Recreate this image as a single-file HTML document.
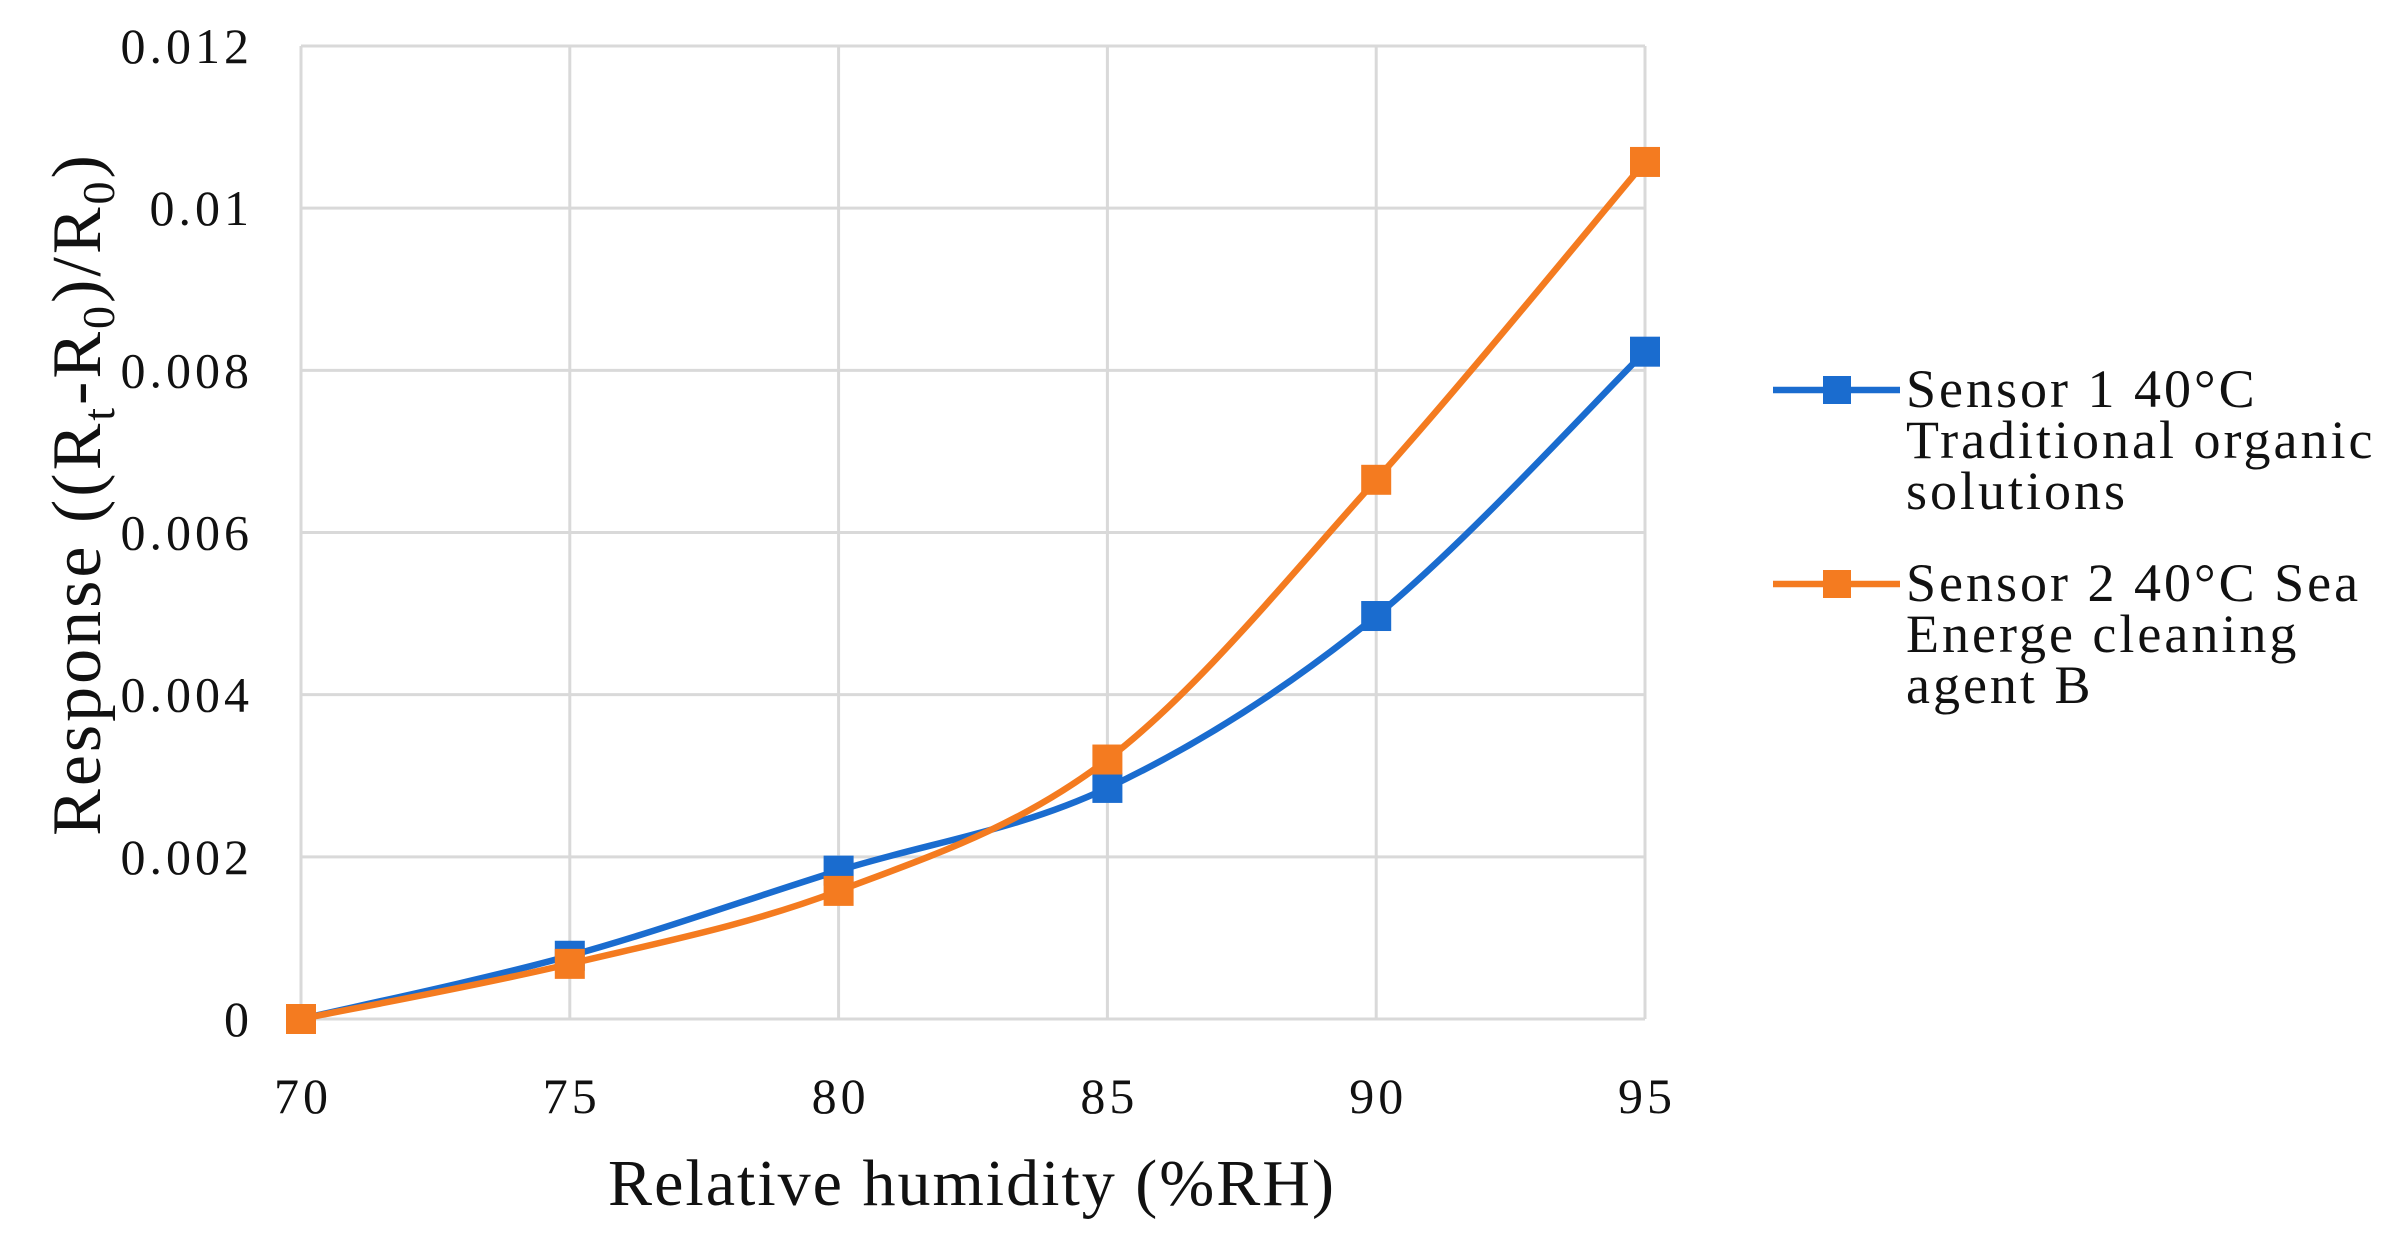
<!DOCTYPE html>
<html><head><meta charset="utf-8"><style>
html,body{margin:0;padding:0;background:#fff;width:2392px;height:1236px;overflow:hidden}
svg text{font-family:"Liberation Serif",serif;fill:#111}
</style></head><body>
<svg id="chart" width="2392" height="1236" viewBox="0 0 2392 1236" xmlns="http://www.w3.org/2000/svg"></svg>
<script>
const categories = [70, 75, 80, 85, 90, 95];
const sensor1 = [0, 0.00078, 0.00183, 0.00285, 0.00497, 0.00823];
const sensor2 = [0, 0.00068, 0.00158, 0.0032, 0.00665, 0.01057];
const yTicks = [0, 0.002, 0.004, 0.006, 0.008, 0.01, 0.012];
const yTickLabels = ["0", "0.002", "0.004", "0.006", "0.008", "0.01", "0.012"];

const L = 301, R = 1645, T = 46, B = 1019;
const xScale = v => L + (v - 70) / 25 * (R - L);
const yScale = v => B - v / 0.012 * (B - T);
const svg = document.getElementById('chart');
const NS = 'http://www.w3.org/2000/svg';
function mk(tag, attrs, parent) {
  const e = document.createElementNS(NS, tag);
  for (const k in attrs) e.setAttribute(k, attrs[k]);
  (parent || svg).appendChild(e);
  return e;
}
const grid = mk('g', {});


yTicks.forEach((t, i) => {
  const ln = mk('line', {x1: L, x2: R, y1: yScale(t), y2: yScale(t), stroke: '#d9d9d9', 'stroke-width': 3}, grid);
  
  
  const tx = mk('text', {x: 253, y: yScale(t) + 17, 'text-anchor': 'end', 'font-size': 50, 'letter-spacing': 4});
  tx.textContent = yTickLabels[i];
  
  
});
categories.forEach(c => {
  const ln = mk('line', {x1: xScale(c), x2: xScale(c), y1: T, y2: B, stroke: '#d9d9d9', 'stroke-width': 3}, grid);
  
  
  const tx = mk('text', {x: xScale(c) + 2, y: 1113, 'text-anchor': 'middle', 'font-size': 50, 'letter-spacing': 4});
  tx.textContent = c;
  
  
});
function smoothPath(pts) {
  let d = 'M' + pts[0][0] + ',' + pts[0][1];
  for (let i = 0; i < pts.length - 1; i++) {
    const p0 = pts[i - 1] || pts[i], p1 = pts[i], p2 = pts[i + 1], p3 = pts[i + 2] || p2;
    const t = 1 / 6;
    const c1 = [p1[0] + (p2[0] - p0[0]) * t, p1[1] + (p2[1] - p0[1]) * t];
    const c2 = [p2[0] - (p3[0] - p1[0]) * t, p2[1] - (p3[1] - p1[1]) * t];
    d += ' C' + c1.join(',') + ' ' + c2.join(',') + ' ' + p2.join(',');
  }
  return d;
}
function series(vals, color, name) {
  const g = mk('g', {});
  
  
  const pts = vals.map((v, i) => [xScale(categories[i]), yScale(v)]);
  const p = mk('path', {d: smoothPath(pts), fill: 'none', stroke: color, 'stroke-width': 6.5, 'stroke-linejoin': 'round'}, g);
  
  
  pts.forEach(pt => {
    const m = mk('rect', {x: pt[0] - 15, y: pt[1] - 15, width: 30, height: 30, fill: color}, g);
    
    
  });
}
series(sensor1, '#1a6ccf', 'sensor1-series');
series(sensor2, '#f47b20', 'sensor2-series');

const xt = mk('text', {x: 972, y: 1205, 'text-anchor': 'middle', 'font-size': 66, 'letter-spacing': 2});
xt.textContent = 'Relative humidity (%RH)';


const yt = mk('text', {x: 0, y: 0, 'text-anchor': 'middle', 'font-size': 70, 'letter-spacing': 3, transform: 'translate(100,494) rotate(-90)'});
yt.innerHTML = 'Response ((R<tspan font-size="46" dy="14">t</tspan><tspan dy="-14">-R</tspan><tspan font-size="46" dy="14">0</tspan><tspan dy="-14">)/R</tspan><tspan font-size="46" dy="14">0</tspan><tspan dy="-14">)</tspan>';



const legend = [
  {color: '#1a6ccf', y: 390, lines: ['Sensor 1 40\u00b0C', 'Traditional organic', 'solutions'], name: 'legend-entry-sensor1'},
  {color: '#f47b20', y: 584, lines: ['Sensor 2 40\u00b0C Sea', 'Energe cleaning', 'agent B'], name: 'legend-entry-sensor2'}
];
legend.forEach(e => {
  const g = mk('g', {});
  
  
  mk('line', {x1: 1773, x2: 1900, y1: e.y, y2: e.y, stroke: e.color, 'stroke-width': 6.5}, g);
  mk('rect', {x: 1823, y: e.y - 14, width: 28, height: 28, fill: e.color}, g);
  e.lines.forEach((l, i) => {
    const t = mk('text', {x: 1906, y: e.y + 17 + i * 51, 'font-size': 54, 'letter-spacing': 3}, g);
    t.textContent = l;
  });
});
</script>
</body></html>
